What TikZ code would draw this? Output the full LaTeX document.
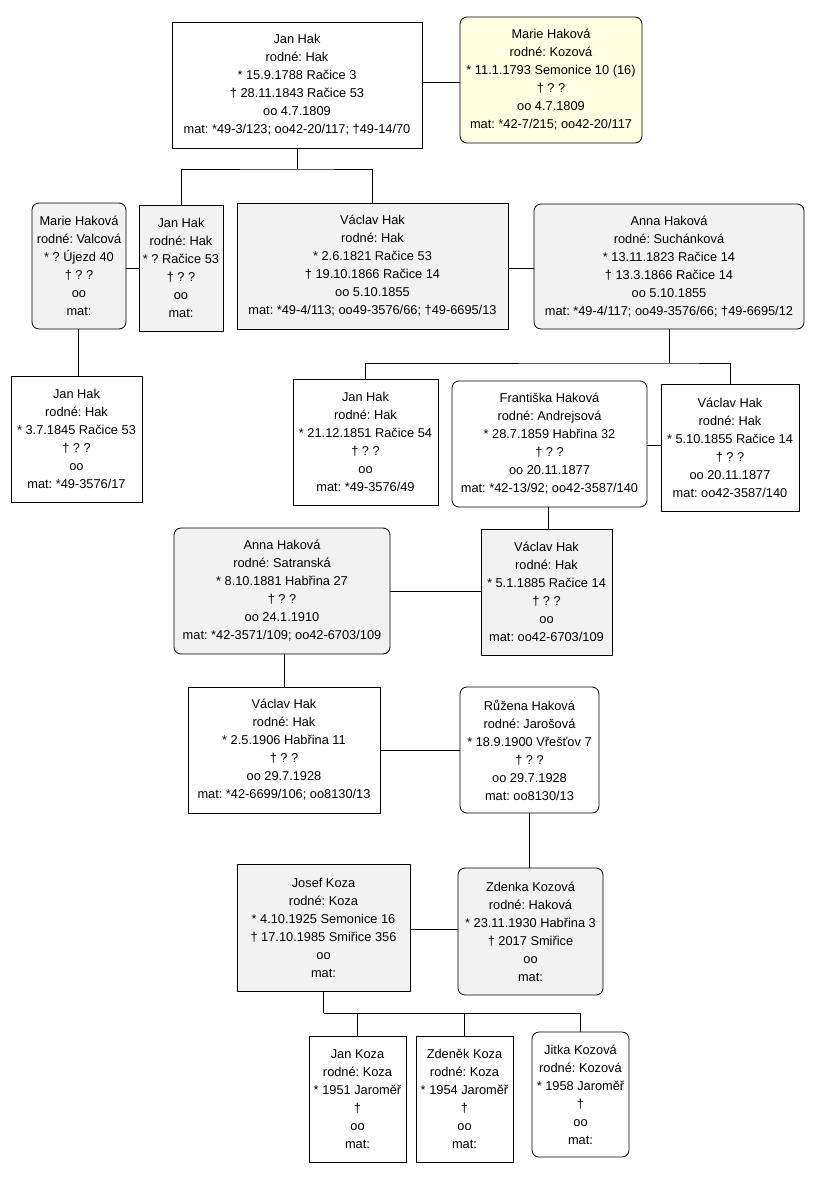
\documentclass[tikz,border=0pt]{standalone}
\usepackage{fontspec}
\setmainfont{Liberation Sans}
\usetikzlibrary{positioning}
\definecolor{fill-gray}{RGB}{242,242,242}
\definecolor{fill-yellow}{RGB}{255,255,225}
\frenchspacing

\begin{document}
\begin{tikzpicture}[x=1pt, y=-1pt, line width=0.8pt,
  person/.style={draw, align=center, inner sep=0pt, minimum width=#1, minimum height=126pt,
    font=\fontsize{12.8}{18}\selectfont},
  woman/.style={person=#1, rounded corners=7pt},
  link/.style={draw, line width=0.8pt}]

\useasboundingbox (0,0) rectangle (819,1177);

% generation 1
\node [person=250pt, fill=white] (janhak) at (297,85) {Jan Hak\\rodné: Hak\\* 15.9.1788 Račice 3\\† 28.11.1843 Račice 53\\oo 4.7.1809\\mat: *49-3/123; oo42-20/117; †49-14/70};
\node [woman=182pt, fill=fill-yellow] (marie) at (551,80) {Marie Haková\\rodné: Kozová\\* 11.1.1793 Semonice 10 (16)\\† ? ?\\oo 4.7.1809\\mat: *42-7/215; oo42-20/117};

% generation 2
\node [woman=94pt, fill=fill-gray] (marievalc) at (79,266) {Marie Haková\\rodné: Valcová\\* ? Újezd 40\\† ? ?\\oo\\mat:};
\node [person=84pt, fill=fill-gray] (jan2) at (181,268) {Jan Hak\\rodné: Hak\\* ? Račice 53\\† ? ?\\oo\\mat:};
\node [person=271pt, fill=fill-gray] (vaclav1) at (372.5,266) {Václav Hak\\rodné: Hak\\* 2.6.1821 Račice 53\\† 19.10.1866 Račice 14\\oo 5.10.1855\\mat: *49-4/113; oo49-3576/66; †49-6695/13};
\node [woman=270pt, fill=fill-gray, minimum height=125pt] (annasuch) at (669,266.5) {Anna Haková\\rodné: Suchánková\\* 13.11.1823 Račice 14\\† 13.3.1866 Račice 14\\oo 5.10.1855\\mat: *49-4/117; oo49-3576/66; †49-6695/12};

% generation 3
\node [person=131pt, fill=white] (jan1845) at (76.5,439) {Jan Hak\\rodné: Hak\\* 3.7.1845 Račice 53\\† ? ?\\oo\\mat: *49-3576/17};
\node [person=145pt, fill=white] (jan1851) at (365.5,442) {Jan Hak\\rodné: Hak\\* 21.12.1851 Račice 54\\† ? ?\\oo\\mat: *49-3576/49};
\node [woman=195pt, fill=white] (frant) at (549.5,444) {Františka Haková\\rodné: Andrejsová\\* 28.7.1859 Habřina 32\\† ? ?\\oo 20.11.1877\\mat: *42-13/92; oo42-3587/140};
\node [person=138pt, fill=white, minimum height=127pt] (vac1855) at (730,447.5) {Václav Hak\\rodné: Hak\\* 5.10.1855 Račice 14\\† ? ?\\oo 20.11.1877\\mat: oo42-3587/140};

% generation 4
\node [woman=216pt, fill=fill-gray] (annasatr) at (282,591) {Anna Haková\\rodné: Satranská\\* 8.10.1881 Habřina 27\\† ? ?\\oo 24.1.1910\\mat: *42-3571/109; oo42-6703/109};
\node [person=131pt, fill=fill-gray] (vac1885) at (546.5,592) {Václav Hak\\rodné: Hak\\* 5.1.1885 Račice 14\\† ? ?\\oo\\mat: oo42-6703/109};

% generation 5
\node [person=192pt, fill=white] (vac1906) at (284,750) {Václav Hak\\rodné: Hak\\* 2.5.1906 Habřina 11\\† ? ?\\oo 29.7.1928\\mat: *42-6699/106; oo8130/13};
\node [woman=139pt, fill=white] (ruzena) at (529.5,750) {Růžena Haková\\rodné: Jarošová\\* 18.9.1900 Vřešťov 7\\† ? ?\\oo 29.7.1928\\mat: oo8130/13};

% generation 6
\node [person=173pt, fill=fill-gray, minimum height=127pt] (josef) at (323.5,927.5) {Josef Koza\\rodné: Koza\\* 4.10.1925 Semonice 16\\† 17.10.1985 Smiřice 356\\oo\\mat:};
\node [woman=145pt, fill=fill-gray, minimum height=127pt] (zdenka) at (530.5,931.5) {Zdenka Kozová\\rodné: Haková\\* 23.11.1930 Habřina 3\\† 2017 Smiřice\\oo\\mat:};

% generation 7
\node [person=97pt, fill=white] (jankoza) at (357.5,1099) {Jan Koza\\rodné: Koza\\* 1951 Jaroměř\\†\\oo\\mat:};
\node [person=97pt, fill=white] (zdenek) at (464.5,1099) {Zdeněk Koza\\rodné: Koza\\* 1954 Jaroměř\\†\\oo\\mat:};
\node [woman=97pt, fill=white, minimum height=125pt] (jitka) at (580.5,1094.5) {Jitka Kozová\\rodné: Kozová\\* 1958 Jaroměř\\†\\oo\\mat:};

% marriages
\draw [link] (janhak.east |- 0,82) -- (marie.west |- 0,82);
\draw [link] (marievalc.east |- 0,268) -- (jan2.west |- 0,268);
\draw [link] (vaclav1.east |- 0,268) -- (annasuch.west |- 0,268);
\draw [link] (frant.east |- 0,445) -- (vac1855.west |- 0,445);
\draw [link] (annasatr.east |- 0,591) -- (vac1885.west |- 0,591);
\draw [link] (vac1906.east) -- (ruzena.west);
\draw [link] (josef.east |- 0,929) -- (zdenka.west |- 0,929);

% children
\coordinate (fork1) at (297,169);
\draw [link] (janhak.south) -- (fork1);
\draw [link] (jan2.north) |- (fork1) -| (vaclav1.north);

\draw [link] (marievalc.south -| 78,0) -- (jan1845.north -| 78,0);

\coordinate (fork2) at (669,363);
\draw [link] (annasuch.south) -- (fork2);
\draw [link] (jan1851.north) |- (fork2) -| (vac1855.north);

\draw [link] (frant.south -| 548,0) -- (vac1885.north -| 548,0);
\draw [link] (annasatr.south -| 284,0) -- (vac1906.north);
\draw [link] (ruzena.south) -- (zdenka.north -| ruzena.south);

\coordinate (fork3) at (323.5,1013);
\draw [link] (josef.south) -- (fork3);
\draw [link] (fork3) -| (jitka.north);
\draw [link] (fork3 -| jankoza.north) -- (jankoza.north);
\draw [link] (fork3 -| zdenek.north) -- (zdenek.north);

\end{tikzpicture}
\end{document}
